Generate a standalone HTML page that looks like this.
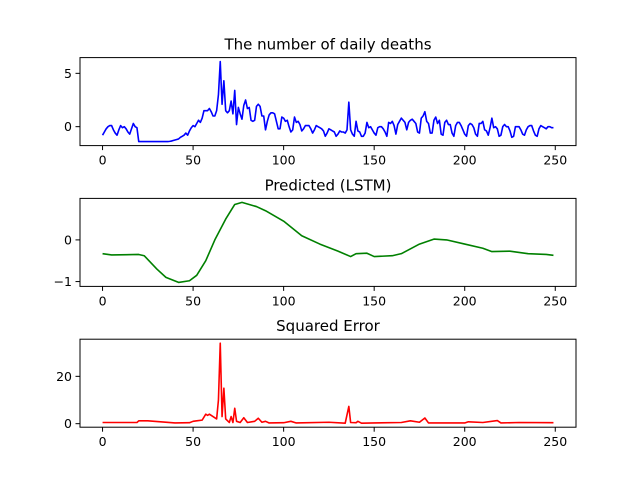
<!DOCTYPE html>
<html><head><meta charset="utf-8"><style>
body{margin:0;background:#fff}
svg{display:block;font-family:"DejaVu Sans","Liberation Sans",sans-serif}
</style></head><body>
<svg id="fig" width="640" height="480" xmlns="http://www.w3.org/2000/svg"></svg>
<script>
const actualDeaths=[-0.8,-0.5,-0.2,0,0.1,0.1,-0.3,-0.6,-0.8,-0.3,0.1,-0.1,0,-0.2,-0.5,-0.7,-0.2,0.3,0,-0.1,
-1.4,-1.4,-1.4,-1.4,-1.4,-1.4,-1.4,-1.4,-1.4,-1.4,-1.4,-1.4,-1.4,-1.4,-1.4,-1.4,-1.4,-1.38,
-1.35,-1.3,-1.25,-1.2,-1.15,-1.0,-0.9,-0.8,-0.6,-0.8,-0.4,-0.1,
0.1,0,0.3,0.6,0.4,0.8,1.5,1.5,1.5,1.7,1.4,1.0,1.0,1.5,3,6.1,
2.1,4.3,1.5,1.3,1.5,2.4,1.2,3.4,0.2,1.8,1.2,0.7,2.0,2.5,1.7,1.8,0.6,0.5,0.6,1.9,2.1,1.9,1.0,1.0,
-0.3,0.5,1.1,1.3,1.3,1.2,0.5,-0.2,-0.2,0.9,0.8,0.5,0.6,0,-0.5,-0.3,0.9,0.4,0.5,0.2,
-0.4,-0.2,0.1,0.1,0.1,-0.2,-0.6,-0.3,0.1,0,-0.1,-0.2,-0.4,-0.9,-0.6,-0.2,-0.3,-0.4,-0.5,-0.9,
-0.7,-0.4,-0.5,-0.5,-0.6,-0.3,2.3,-0.3,-0.7,-0.9,0.5,-0.4,-0.5,-0.9,-0.9,-0.6,0.4,-0.1,0,-0.3,
-0.6,-0.8,-0.1,0,0,-0.2,-0.5,-0.9,0.4,0.3,0.5,0.1,-0.7,0.2,0.5,0.8,0.6,0.4,-0.3,0.4,
0.6,0.7,0.5,0.3,-0.5,-0.6,0.8,1.0,1.4,0.5,0.3,-0.6,-0.6,0.6,0.9,0.3,0.6,-0.7,-0.8,0.4,
0.6,0.2,0.2,-0.6,-0.9,0.1,0.4,0.4,0.1,-0.3,-0.7,-0.9,0.1,0.3,0.2,-0.1,-0.7,-0.9,0.3,0.3,
0.5,-0.3,-0.4,-0.8,-0.1,0.8,-0.1,0,-0.2,-0.9,-0.8,0,0.2,0,0,-0.4,-1.0,-0.9,0,0,
0,-0.3,-0.7,-0.8,-0.3,0,0.1,0.1,-0.4,-0.8,-0.9,-0.2,0.1,0,-0.1,-0.2,0,0,-0.1,-0.1];
const predX=[0,5,20,23,30,35,42,48,52,57,62,68,73,77,85,90,100,110,120,130,137,140,146,150,160,165,175,183,190,200,210,215,225,235,245,249];
const predY=[-0.33,-0.36,-0.35,-0.38,-0.7,-0.9,-1.02,-0.98,-0.85,-0.5,0,0.5,0.85,0.9,0.8,0.7,0.45,0.1,-0.1,-0.27,-0.4,-0.33,-0.32,-0.4,-0.38,-0.33,-0.1,0.02,0,-0.1,-0.2,-0.28,-0.27,-0.33,-0.35,-0.37];
const errX=[0,19,20,25,40,48,50,52,55,57,58,59,61,63,64,65,66,67,68,70,71,72,73,74,76,78,80,84,86,88,90,92,100,104,107,125,134,136,137,140,141,143,150,165,170,175,178,180,200,202,210,218,220,230,249];
const errY=[0.5,0.5,1.2,1.2,0.3,0.4,1,1.2,1.5,4,3.5,4,3,2,10,34,3,15,2,0.5,3,0.5,6.5,1,0.5,2.5,0.5,1,2.3,0.6,1,0.3,0.4,1,0.3,0.6,0.2,7.3,0.5,0.4,1,0.2,0.3,0.5,1.2,0.6,2.4,0.3,0.3,0.8,0.5,1.3,0.3,0.5,0.4];
const xTicks=[0,50,100,150,200,250];
const yTicks1=[0,5], yTicks2=[-1,0], yTicks3=[0,20];

const svg=document.getElementById('fig');
const NS='http://www.w3.org/2000/svg';
function mk(tag,attrs,parent){const e=document.createElementNS(NS,tag);for(const k in attrs)e.setAttribute(k,attrs[k]);(parent||svg).appendChild(e);return e;}
const L=80,R=576,W=R-L;
const xmin=-12.45,xmax=261.45;
const sx=x=>L+(x-xmin)/(xmax-xmin)*W;
function panel(top,title,xs,ys,color,yt,name){
  const H=88,bot=top+H;
  let lo=Math.min(...ys),hi=Math.max(...ys);const p=(hi-lo)*0.05;lo-=p;hi+=p;
  const sy=v=>bot-(v-lo)/(hi-lo)*H;
  const g=mk('g',{});
  
  
  const d=xs.map((x,i)=>(i?'L':'M')+sx(x).toFixed(2)+' '+sy(ys[i]).toFixed(2)).join(' ');
  const cp=mk('clipPath',{id:'c'+name},g);mk('rect',{x:L,y:top,width:W,height:H},cp);
  const ln=mk('path',{d:d,fill:'none',stroke:color,'stroke-width':1.6,'stroke-linejoin':'round','clip-path':'url(#c'+name+')'},g);
  
  
  const fr=mk('rect',{x:L,y:top,width:W,height:H,fill:'none',stroke:'#000','stroke-width':1},g);
  
  
  xTicks.forEach(t=>{const x=sx(t);mk('line',{x1:x,x2:x,y1:bot,y2:bot+4.5,stroke:'#000','stroke-width':1},g);
    const tx=mk('text',{x:x,y:bot+19,'font-size':12.5,'text-anchor':'middle'},g);tx.textContent=t;
    
    });
  yt.forEach(t=>{const y=sy(t);mk('line',{x1:L-4.5,x2:L,y1:y,y2:y,stroke:'#000','stroke-width':1},g);
    const tx=mk('text',{x:L-8,y:y+4.5,'font-size':12.5,'text-anchor':'end'},g);tx.textContent=t<0?'\u2212'+(-t):t;
    
    });
  const tt=mk('text',{x:L+W/2,y:top-8,'font-size':15,'text-anchor':'middle'},g);tt.textContent=title;
  
  
}
panel(57.6,'The number of daily deaths',actualDeaths.map((_,i)=>i),actualDeaths,'#0000ff',yTicks1,'actual');
panel(198.4,'Predicted (LSTM)',predX,predY,'#008000',yTicks2,'predicted');
panel(339.2,'Squared Error',errX,errY,'#ff0000',yTicks3,'error');
</script>
</body></html>
